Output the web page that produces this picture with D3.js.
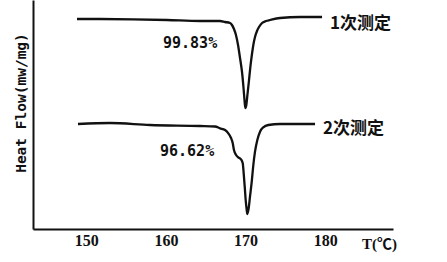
<!DOCTYPE html>
<html>
<head>
<meta charset="utf-8">
<script src="https://cdn.jsdelivr.net/npm/d3@7"></script>
<style>
  html, body { margin: 0; padding: 0; background: #fff; }
  svg { display: block; }
</style>
</head>
<body>
<svg id="chart" width="447" height="262"></svg>
<script>
// ---- data (temperature °C, heat flow in arbitrary units) ----
const xTicks = [150, 160, 170, 180];
const seriesNames = ["1次测定", "2次测定"];
const purityLabels = ["99.83%", "96.62%"];

const run1T  = [148.85, 151.73, 155.87, 160.14, 164.28, 166.79, 167.42, 168.04, 168.29, 168.54, 168.79, 169.05, 169.30, 169.55, 169.74, 169.86, 169.96, 170.09, 170.24, 170.43, 170.61, 170.80, 170.99, 171.18, 171.43, 171.68, 172.06, 172.56, 173.06, 174.32, 176.83, 179.59];
const run1HF = [21.0, 21.0, 20.97, 20.9, 20.8, 20.8, 20.7, 20.6, 20.4, 20.0, 19.4, 18.4, 17.1, 15.7, 14.1, 12.9, 12.1, 12.4, 13.5, 14.9, 16.3, 17.5, 18.5, 19.2, 19.8, 20.2, 20.6, 20.8, 20.9, 21.1, 21.2, 21.2];

const run2T  = [148.97, 152.99, 158.0, 164.28, 166.16, 166.79, 167.42, 167.83, 168.17, 168.38, 168.54, 168.80, 169.08, 169.42, 169.64, 169.76, 169.89, 170.01, 170.14, 170.21, 170.39, 170.55, 170.77, 170.97, 171.18, 171.47, 171.81, 172.22, 172.85, 174.32, 176.83, 178.71];
const run2HF = [10.5, 10.6, 10.4, 10.3, 10.25, 10.07, 9.9, 9.57, 9.1, 8.6, 7.9, 7.4, 7.17, 6.97, 6.57, 5.57, 4.23, 2.9, 1.9, 1.5, 2.1, 3.23, 4.73, 6.4, 7.73, 8.9, 9.73, 10.17, 10.4, 10.5, 10.5, 10.5];

// ---- layout ----
const svg = d3.select("#chart");
const x = d3.scaleLinear().domain([143.33, 188.49]).range([33, 393]);
const y = d3.scaleLinear().domain([0, 22.9]).range([229, 0]);

// axes
const xAxis = svg.append("g")
  .attr("transform", "translate(0,229)")
  .call(d3.axisBottom(x).tickValues(xTicks).tickSize(0).tickSizeOuter(0).tickFormat(d3.format("d")));
xAxis.attr("font-family", null);
xAxis.select(".domain").attr("stroke", "#111").attr("stroke-width", 2);
xAxis.selectAll("text")
  .attr("y", 17).attr("dy", 0)
  .attr("fill", "#111")
  .style("font-family", "'Liberation Serif', 'DejaVu Serif', serif")
  .style("font-weight", "bold")
  .style("font-size", "16px");

const yAxis = svg.append("g")
  .attr("transform", "translate(33,0)")
  .call(d3.axisLeft(y).tickValues([]).tickSize(0).tickSizeOuter(0));
yAxis.select(".domain").attr("stroke", "#111").attr("stroke-width", 2);

// curves
const line = d3.line().x(d => x(d[0])).y(d => y(d[1])).curve(d3.curveMonotoneX);
const runs = [d3.zip(run1T, run1HF), d3.zip(run2T, run2HF)];
svg.selectAll("path.curve").data(runs).enter().append("path")
  .attr("class", "curve")
  .attr("d", line)
  .attr("fill", "none")
  .attr("stroke", "#111")
  .attr("stroke-width", 2.3)
  .attr("stroke-linejoin", "round");

// series labels (Chinese)
const seriesPos = [[330, 29], [323, 134]];
svg.selectAll("text.series").data(seriesNames).enter().append("text")
  .attr("class", "series")
  .attr("x", (d, i) => seriesPos[i][0])
  .attr("y", (d, i) => seriesPos[i][1])
  .attr("fill", "#111")
  .style("font-family", "'Noto Sans CJK SC', sans-serif")
  .style("font-weight", "bold")
  .style("font-size", "17px")
  .text(d => d);

// purity labels
const purityPos = [[163, 48], [160, 156]];
svg.selectAll("text.purity").data(purityLabels).enter().append("text")
  .attr("class", "purity")
  .attr("x", (d, i) => purityPos[i][0])
  .attr("y", (d, i) => purityPos[i][1])
  .attr("fill", "#111")
  .style("font-family", "'DejaVu Sans Mono', monospace")
  .style("font-weight", "bold")
  .style("font-size", "15px")
  .text(d => d);

// axis titles
svg.append("text")
  .attr("transform", "translate(26,103) rotate(-90)")
  .attr("text-anchor", "middle")
  .attr("fill", "#111")
  .style("font-family", "'DejaVu Sans Mono', monospace")
  .style("font-weight", "bold")
  .style("font-size", "14.5px")
  .text("Heat Flow(mw/mg)");

svg.append("text")
  .attr("x", 362).attr("y", 249)
  .attr("fill", "#111")
  .style("font-family", "'Liberation Serif', 'Noto Sans CJK SC', serif")
  .style("font-weight", "bold")
  .style("font-size", "15px")
  .text("T(℃)");
</script>
</body>
</html>
